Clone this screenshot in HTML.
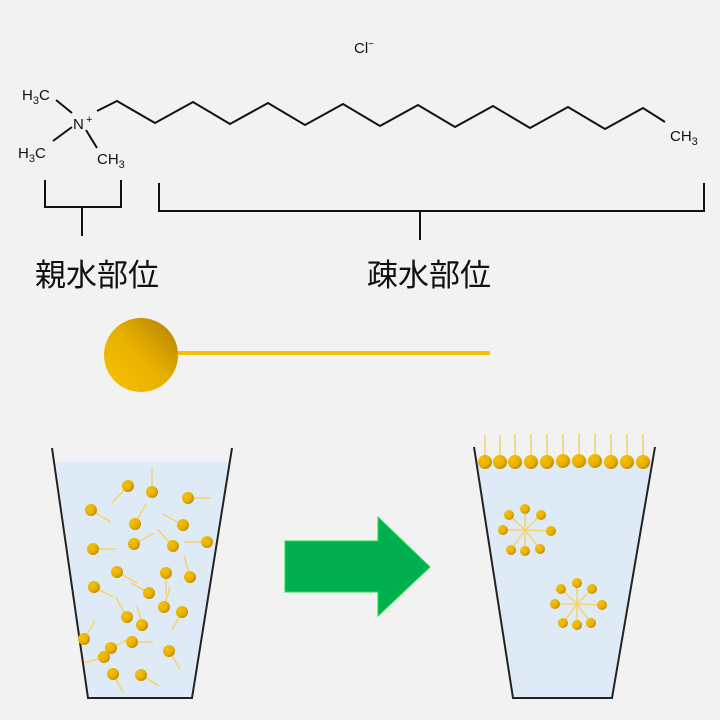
<!DOCTYPE html><html><head><meta charset="utf-8"><style>body{margin:0;background:#f2f2f2}svg{display:block}</style></head><body>
<svg width="720" height="720" viewBox="0 0 720 720" xmlns="http://www.w3.org/2000/svg" font-family="'Liberation Sans','DejaVu Sans',sans-serif">
<defs>
<radialGradient id="g" cx="0.3" cy="0.3" r="0.8"><stop offset="0" stop-color="#f8c000"/><stop offset="0.6" stop-color="#e8b000"/><stop offset="1" stop-color="#b88a00"/></radialGradient>
<linearGradient id="gb" x1="0" y1="1" x2="1" y2="0"><stop offset="0" stop-color="#f8c200"/><stop offset="0.5" stop-color="#e8b000"/><stop offset="1" stop-color="#b07f00"/></linearGradient>
</defs>
<rect width="720" height="720" fill="#f2f2f2"/>
<text x="354" y="53" font-size="15" fill="#111">Cl<tspan font-size="10" dy="-6">−</tspan></text>
<g stroke="#111" stroke-width="2" fill="none">
<line x1="56" y1="100" x2="72" y2="113"/><line x1="53" y1="141" x2="72" y2="127"/><line x1="86" y1="130" x2="97" y2="148"/>
<polyline points="97,111 117,101 155,123 193,102 230,124 268,103 305,125 343,104 380,126 418,105 455,127 493,106 530,128 568,107 605,129 643,108 665,122"/>
<polyline points="45,180 45,207 121,207 121,180"/><line x1="82" y1="207" x2="82" y2="236"/>
<polyline points="159,183 159,211 704,211 704,183"/><line x1="420" y1="211" x2="420" y2="240"/>
</g>
<g font-size="15" fill="#111">
<text x="22" y="100">H<tspan font-size="11" dy="4">3</tspan><tspan dy="-4">C</tspan></text>
<text x="73" y="129">N</text><text x="86" y="123" font-size="11">+</text>
<text x="18" y="158">H<tspan font-size="11" dy="4">3</tspan><tspan dy="-4">C</tspan></text>
<text x="97" y="164">CH<tspan font-size="11" dy="4">3</tspan></text>
<text x="670" y="141">CH<tspan font-size="11" dy="4">3</tspan></text>
</g>
<g font-size="31" fill="#111" font-family="'Liberation Sans','Noto Sans CJK JP',sans-serif">
<text x="35" y="286">親水部位</text><text x="367" y="286">疎水部位</text>
</g>
<line x1="176" y1="353" x2="490" y2="353" stroke="#f5c000" stroke-width="4"/>
<circle cx="141" cy="355" r="37" fill="url(#gb)"/>
<polygon points="56,462 229,462 193,697 88,697" fill="#deeaf5"/>
<polyline points="52,448 88,698 192,698 232,448" fill="none" stroke="#222" stroke-width="2"/>
<g stroke="#f5d36a" stroke-width="1.5">
<line x1="128" y1="486" x2="112" y2="503"/><line x1="152" y1="492" x2="152" y2="469"/><line x1="188" y1="498" x2="211" y2="498"/><line x1="91" y1="510" x2="111" y2="522"/><line x1="135" y1="524" x2="146" y2="504"/><line x1="183" y1="525" x2="163" y2="514"/><line x1="93" y1="549" x2="116" y2="549"/><line x1="134" y1="544" x2="154" y2="533"/><line x1="173" y1="546" x2="157" y2="529"/><line x1="207" y1="542" x2="184" y2="542"/><line x1="117" y1="572" x2="137" y2="583"/><line x1="166" y1="573" x2="166" y2="595"/><line x1="190" y1="577" x2="184" y2="555"/><line x1="94" y1="587" x2="113" y2="597"/><line x1="149" y1="593" x2="131" y2="583"/><line x1="164" y1="607" x2="170" y2="587"/><line x1="182" y1="612" x2="172" y2="630"/><line x1="127" y1="617" x2="116" y2="598"/><line x1="142" y1="625" x2="137" y2="605"/><line x1="84" y1="639" x2="95" y2="621"/><line x1="132" y1="642" x2="153" y2="642"/><line x1="111" y1="648" x2="127" y2="640"/><line x1="169" y1="651" x2="180" y2="669"/><line x1="104" y1="657" x2="84" y2="663"/><line x1="113" y1="674" x2="123" y2="692"/><line x1="141" y1="675" x2="159" y2="686"/>
</g>
<g fill="url(#g)">
<circle cx="128" cy="486" r="6"/><circle cx="152" cy="492" r="6"/><circle cx="188" cy="498" r="6"/><circle cx="91" cy="510" r="6"/><circle cx="135" cy="524" r="6"/><circle cx="183" cy="525" r="6"/><circle cx="93" cy="549" r="6"/><circle cx="134" cy="544" r="6"/><circle cx="173" cy="546" r="6"/><circle cx="207" cy="542" r="6"/><circle cx="117" cy="572" r="6"/><circle cx="166" cy="573" r="6"/><circle cx="190" cy="577" r="6"/><circle cx="94" cy="587" r="6"/><circle cx="149" cy="593" r="6"/><circle cx="164" cy="607" r="6"/><circle cx="182" cy="612" r="6"/><circle cx="127" cy="617" r="6"/><circle cx="142" cy="625" r="6"/><circle cx="84" cy="639" r="6"/><circle cx="132" cy="642" r="6"/><circle cx="111" cy="648" r="6"/><circle cx="169" cy="651" r="6"/><circle cx="104" cy="657" r="6"/><circle cx="113" cy="674" r="6"/><circle cx="141" cy="675" r="6"/>
</g>
<polygon points="285,541 378,541 378,517 430,567 378,616 378,592 285,592" fill="#00b050" stroke="#22dd44" stroke-width="1"/>
<polygon points="476,460 653,460 612,697 513,697" fill="#deeaf5"/>
<polyline points="474,447 513,698 612,698 655,447" fill="none" stroke="#222" stroke-width="2"/>
<g stroke="#f5d36a" stroke-width="1.5">
<line x1="485" y1="461" x2="485" y2="435"/><line x1="500" y1="461" x2="500" y2="435"/><line x1="515" y1="461" x2="515" y2="434"/><line x1="531" y1="461" x2="531" y2="434"/><line x1="547" y1="461" x2="547" y2="434"/><line x1="563" y1="461" x2="563" y2="434"/><line x1="579" y1="461" x2="579" y2="433"/><line x1="595" y1="461" x2="595" y2="433"/><line x1="611" y1="461" x2="611" y2="434"/><line x1="627" y1="461" x2="627" y2="434"/><line x1="643" y1="461" x2="643" y2="434"/>
<g transform="translate(525,530)"><line x1="0" y1="-21" x2="0" y2="0"/><line x1="16" y1="-15" x2="0" y2="0"/><line x1="26" y1="1" x2="0" y2="0"/><line x1="15" y1="19" x2="0" y2="0"/><line x1="0" y1="21" x2="0" y2="0"/><line x1="-14" y1="20" x2="0" y2="0"/><line x1="-22" y1="0" x2="0" y2="0"/><line x1="-16" y1="-15" x2="0" y2="0"/></g>
<g transform="translate(577,604)"><line x1="0" y1="-21" x2="0" y2="0"/><line x1="15" y1="-15" x2="0" y2="0"/><line x1="25" y1="1" x2="0" y2="0"/><line x1="14" y1="19" x2="0" y2="0"/><line x1="0" y1="21" x2="0" y2="0"/><line x1="-14" y1="19" x2="0" y2="0"/><line x1="-22" y1="0" x2="0" y2="0"/><line x1="-16" y1="-15" x2="0" y2="0"/></g>
</g>
<g fill="url(#g)">
<circle cx="485" cy="462" r="7"/><circle cx="500" cy="462" r="7"/><circle cx="515" cy="462" r="7"/><circle cx="531" cy="462" r="7"/><circle cx="547" cy="462" r="7"/><circle cx="563" cy="461" r="7"/><circle cx="579" cy="461" r="7"/><circle cx="595" cy="461" r="7"/><circle cx="611" cy="462" r="7"/><circle cx="627" cy="462" r="7"/><circle cx="643" cy="462" r="7"/>
<g transform="translate(525,530)"><circle cx="0" cy="-21" r="5"/><circle cx="16" cy="-15" r="5"/><circle cx="26" cy="1" r="5"/><circle cx="15" cy="19" r="5"/><circle cx="0" cy="21" r="5"/><circle cx="-14" cy="20" r="5"/><circle cx="-22" cy="0" r="5"/><circle cx="-16" cy="-15" r="5"/></g>
<g transform="translate(577,604)"><circle cx="0" cy="-21" r="5"/><circle cx="15" cy="-15" r="5"/><circle cx="25" cy="1" r="5"/><circle cx="14" cy="19" r="5"/><circle cx="0" cy="21" r="5"/><circle cx="-14" cy="19" r="5"/><circle cx="-22" cy="0" r="5"/><circle cx="-16" cy="-15" r="5"/></g>
</g>
</svg>
</body></html>
